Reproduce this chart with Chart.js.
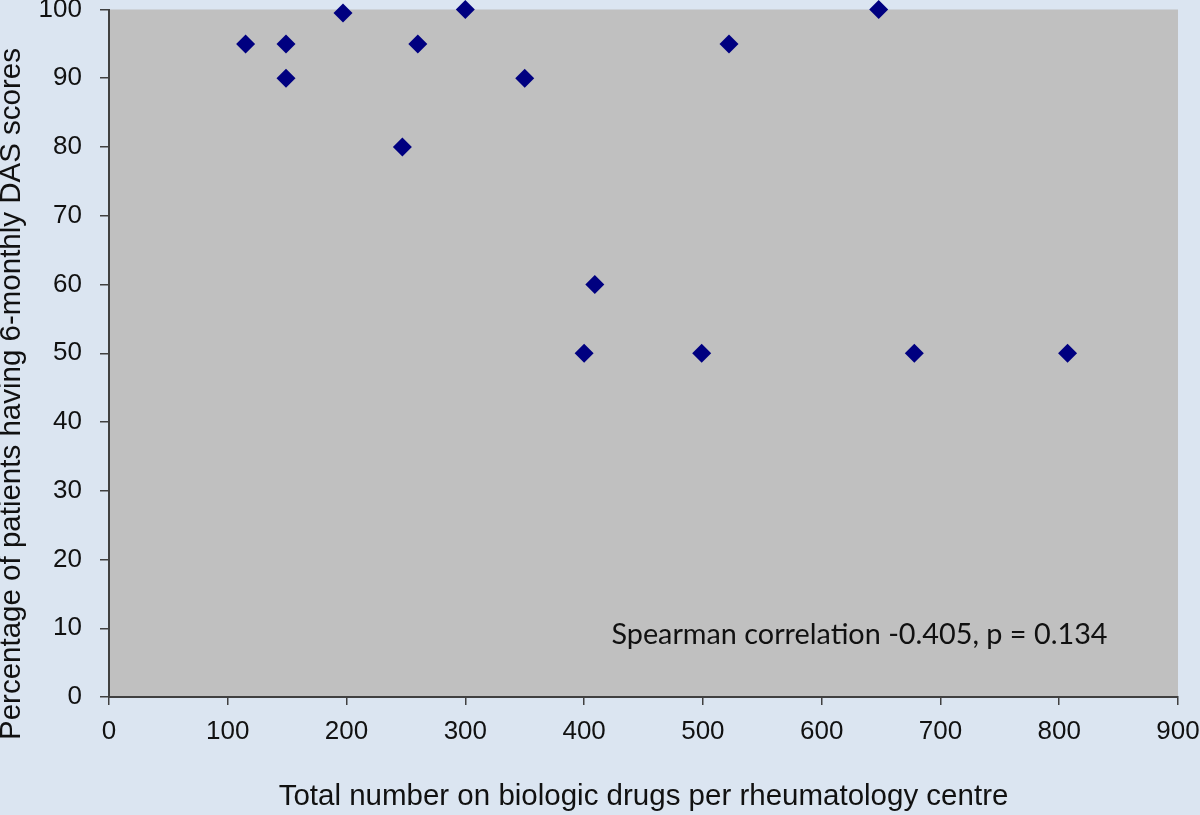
<!DOCTYPE html>
<html>
<head>
<meta charset="utf-8">
<script src="https://cdn.jsdelivr.net/npm/chart.js@4/dist/chart.umd.min.js"></script>
<style>
  html, body { margin: 0; padding: 0; background: #dbe5f1; }
  #wrap { width: 1200px; height: 815px; position: relative; }
</style>
</head>
<body>
<div id="wrap"><canvas id="chart"></canvas></div>
<script>
// valores
const totalBiologic = [115, 149, 149, 197, 247, 260, 300, 350, 400, 409, 499, 522, 648, 678, 807];
const pctDas = [95, 95, 90, 99.5, 80, 95, 100, 90, 50, 60, 50, 95, 100, 50, 50];
const xTitle = "Total number on biologic drugs per rheumatology centre";
const yTitle = "Percentage of patients having 6-monthly DAS scores";
const noteText = "Spearman correlation -0.405, p = 0.134";
const notePos = { x: 423, y: 9 };

// fundo cinza da área do gráfico
const plotBg = {
    id: "plotBg",
    beforeDraw(chart) {
        const { ctx, chartArea: a } = chart;
        ctx.save();
        ctx.fillStyle = "#c0c0c0";
        ctx.fillRect(a.left, a.top, a.right - a.left, a.bottom - a.top);
        ctx.restore();
    }
};

// texto da correlação e título do eixo y (deslocado para baixo como no original)
const note = {
    id: "note",
    afterDatasetsDraw(chart) {
        const { ctx, scales } = chart;
        ctx.save();
        ctx.font = "28.8px Lato";
        ctx.fillStyle = "#111";
        ctx.textAlign = "left";
        ctx.textBaseline = "middle";
        ctx.fillText(noteText, scales.x.getPixelForValue(notePos.x), scales.y.getPixelForValue(notePos.y));
        ctx.restore();

        ctx.save();
        ctx.font = "29.5px 'Liberation Sans'";
        ctx.fillStyle = "#111";
        ctx.textAlign = "center";
        ctx.textBaseline = "middle";
        ctx.translate(12, 394);
        ctx.rotate(-Math.PI / 2);
        ctx.fillText(yTitle, 0, 0);
        ctx.restore();
    }
};

const axisColor = "#404040";
const tickFont = { family: "Liberation Sans", size: 26 };
const titleFont = { family: "Liberation Sans", size: 29.5 };

new Chart(document.getElementById("chart"), {
    type: "scatter",
    data: {
        datasets: [{
            data: totalBiologic.map((v, i) => ({ x: v, y: pctDas[i] })),
            pointStyle: "rectRot",
            pointRadius: 9.5,
            pointHoverRadius: 9.5,
            backgroundColor: "#000080",
            borderWidth: 0,
            clip: false
        }]
    },
    options: {
        responsive: true,
        maintainAspectRatio: false,
        animation: false,
        layout: { padding: { top: 9, right: 22, left: 0, bottom: 0 } },
        plugins: { legend: { display: false }, tooltip: { enabled: false } },
        scales: {
            x: {
                type: "linear",
                min: 0, max: 900,
                afterFit(s) { s.height = 118; s.paddingLeft = 0; s.paddingRight = 0; },
                ticks: { stepSize: 100, color: "#111", font: tickFont, padding: 11, maxRotation: 0 },
                grid: { drawOnChartArea: false, tickLength: 8, color: axisColor, lineWidth: 1.5 },
                border: { color: axisColor, width: 2 },
                title: { display: true, text: xTitle, color: "#111", font: titleFont, padding: { top: 0, bottom: 0 } }
            },
            y: {
                min: 0, max: 100,
                afterFit(s) { s.width = 109; s.paddingTop = 0; s.paddingBottom = 0; },
                ticks: { stepSize: 10, color: "#111", font: tickFont, padding: 18 },
                grid: { drawOnChartArea: false, tickLength: 9, color: axisColor, lineWidth: 1.5 },
                border: { color: axisColor, width: 2 }
            }
        }
    },
    plugins: [plotBg, note]
});
</script>
</body>
</html>
